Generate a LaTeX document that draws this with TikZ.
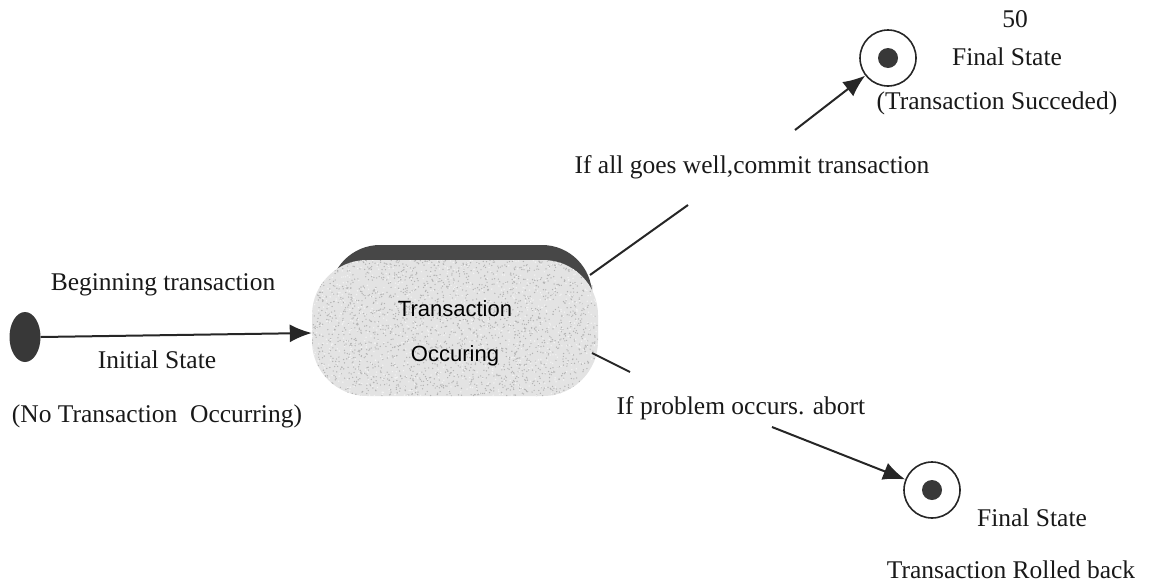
\documentclass[tikz,border=0pt]{standalone}
\usepackage{fontspec}
\setmainfont{Liberation Serif}
\newfontfamily\statefont{Liberation Sans}
\usetikzlibrary{arrows.meta,shapes.geometric}
\begin{document}
\begin{tikzpicture}[x=1pt,y=-1pt,
  lbl/.style={font=\fontsize{25.5}{30}\selectfont, inner sep=0pt, text=black!90},
  flow/.style={line width=2pt, black!85, -{Latex[length=22pt,width=18pt]}},
  plainline/.style={line width=2pt, black!85},
  endstate/.style={circle, draw=black!85, line width=1.6pt, minimum size=56pt, inner sep=0pt},
  startstate/.style={ellipse, fill=black!78, minimum width=31pt, minimum height=50pt, inner sep=0pt},
  statebody/.style={rounded corners=55pt, fill=gray!22},
  stateedge/.style={rounded corners=50pt, fill=black!72},
]
\useasboundingbox (0,0) rectangle (1161,587);

% initial state and its labels
\node[startstate] (init) at (25,337) {};
\node[lbl] (lbegin) at (163,285) {Beginning transaction};
\node[lbl] (linit) at (157,360) {Initial State};
\node[lbl] (lnone) at (157,416) {(No Transaction\ \ Occurring)};

% the transaction state: dark top rim behind a speckled body
\fill[stateedge] (330,245) rectangle (592,335);
\fill[statebody] (312,260) rectangle (598,396);
\begin{scope}
  \clip[rounded corners=55pt] (312,260) rectangle (598,396);
  \pgfmathsetseed{7}
  \foreach \i in {1,...,2200}{
    \fill[gray!60] ({312+286*rnd},{260+136*rnd}) circle (0.7);
  }
  \foreach \i in {1,...,900}{
    \fill[white!90!gray] ({312+286*rnd},{260+136*rnd}) circle (0.8);
  }
\end{scope}
\node[inner sep=0pt, minimum width=286pt, minimum height=136pt,
      font=\statefont\fontsize{22}{45}\selectfont, align=center, text=black]
  (state) at (455,333) {Transaction\\Occuring};

% final states
\node[endstate] (okstate) at (888,58) {};
\fill[black!78] (okstate.center) circle (10);
\node[endstate] (rbstate) at (932,490) {};
\fill[black!78] (rbstate.center) circle (10);

\node[lbl] (lfifty) at (1015,19) {50};
\node[lbl] (lokfin) at (1007,57) {Final State};
\node[lbl] (lokdesc) at (997,103) {(Transaction Succeded)};
\node[lbl] (lrbfin) at (1032,518) {Final State};
\node[lbl] (lrbdesc) at (1011,570) {Transaction Rolled back};

% transition labels
\node[lbl] (lcommit) at (752,167) {If all goes well,commit transaction};
\node[lbl] (labort) at (741,408) {If problem occurs. abort};

% connector end points
\coordinate (cstart) at (590,275);
\coordinate (cmid) at (688,205);
\coordinate (cgo) at (795,130);
\coordinate (astart) at (592,353);
\coordinate (amid) at (630,372);
\coordinate (ago) at (772,427);

% transitions
\draw[flow] (init.east) -- (state.west);
\draw[plainline] (cstart) -- (cmid);
\draw[flow] (cgo) -- (okstate);
\draw[plainline] (astart) -- (amid);
\draw[flow] (ago) -- (rbstate);
\end{tikzpicture}
\end{document}
